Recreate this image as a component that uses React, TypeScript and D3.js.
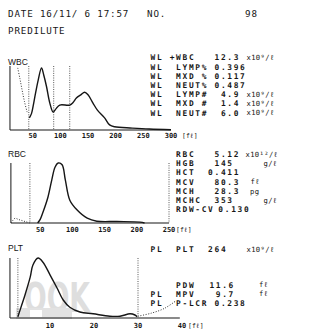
import React from 'react';
import * as d3 from 'd3';

// ---------- header ----------
const headerDate = 'DATE 16/11/ 6 17:57';
const headerNo = 'NO.';
const sampleNo = '98';
const modeText = 'PREDILUTE';

// ---------- WBC histogram ----------
const wbcFl = [44, 48, 51, 54, 60, 66, 70, 75, 81, 87, 92, 99, 117, 123, 129, 137, 144, 150, 159, 167, 180, 189, 198, 230, 261, 300];
const wbcCount = [19, 26, 38, 52, 78, 97, 86, 68, 42, 28, 33, 39, 39, 43, 50, 55, 59, 55, 42, 31, 19, 8, 5, 3, 1.5, 0.5];
const wbcGhostFl = [23, 27, 31, 35, 40];
const wbcGhostCount = [97, 80, 62, 45, 28];
const wbcMarkers = [43, 88, 117];
const wbcTicks = [50, 100, 150, 200, 250, 300];

// ---------- RBC histogram ----------
const rbcFl = [46, 50, 54, 62, 68, 73, 78, 84, 89, 96, 107, 123, 138, 169, 205, 212];
const rbcCount = [0, 6, 17, 43, 72, 93, 100, 97, 72, 38, 22, 8, 3, 2.5, 1.5, 0];
const rbcGhostFl = [5, 8, 11, 16, 22, 28, 34];
const rbcGhostCount = [0, 5, 8, 6, 4, 2, 0];
const rbcMarkers = [34, 250];
const rbcTicks = [50, 100, 150, 200, 250];

// ---------- PLT histogram ----------
const pltFl = [2.7, 3.5, 4.3, 5.5, 6.1, 7.3, 8.4, 10, 11.6, 13, 14.5, 16.8, 19.8, 23.6, 25.9, 28.2, 29.3, 29.8];
const pltCount = [2, 20, 38, 68, 88, 100, 93, 72, 50, 30, 18, 10, 7, 3, 3, 7, 5, 2];
const pltGhostFl = [30, 33, 36, 38.5];
const pltGhostCount = [3, 8, 16, 28];
const pltMarkers = [2.7, 30];
const pltTicks = [10, 20, 30, 40];

// ---------- results ----------
const wbcFlags = ['WL', 'WL', 'WL', 'WL', 'WL', 'WL', 'WL'];
const wbcNames = ['+WBC', 'LYMP%', 'MXD %', 'NEUT%', 'LYMP#', 'MXD #', 'NEUT#'];
const wbcValues = ['12.3', '0.396', '0.117', '0.487', '4.9', '1.4', '6.0'];
const wbcUnits = ['x10⁹/ℓ', '', '', '', 'x10⁹/ℓ', 'x10⁹/ℓ', 'x10⁹/ℓ'];

const rbcFlags = ['', '', '', '', '', '', ''];
const rbcNames = ['RBC', 'HGB', 'HCT', 'MCV', 'MCH', 'MCHC', 'RDW-CV'];
const rbcValues = ['5.12', '145', '0.411', '80.3', '28.3', '353', '0.130'];
const rbcUnits = ['x10¹²/ℓ', 'g/ℓ', '', 'fℓ', 'pg', 'g/ℓ', ''];

const pltFlags = ['PL', '', 'PL', 'PL'];
const pltNames = ['PLT', 'PDW', 'MPV', 'P-LCR'];
const pltValues = ['264', '11.6', '9.7', '0.238'];
const pltUnits = ['x10⁹/ℓ', 'fℓ', 'fℓ', ''];

// ---------- layout (positions, not data) ----------
const MONO = '"DejaVu Sans Mono", "Liberation Mono", monospace';
const SANS = '"Liberation Sans", Arial, sans-serif';
const INK = '#161616';
const FS = 7.85;
const LS = 1.68;
const HFS = 9.2;
const HLS = 0.85;
const COL0 = 150.5;
const CW = 6.4;
const wbcValCols = [10, 10, 10, 10, 11, 11, 11];
const wbcRowY = [60.3, 69.5, 78.7, 87.9, 97.1, 106.3, 115.5];
const wbcUnitX = [246.5, 0, 0, 0, 246.5, 246.5, 246.5];
const rbcValCols = [10, 10, 9, 10, 10, 10, 10.6];
const rbcRowY = [157, 166.2, 175.4, 184.6, 193.8, 203, 212.2];
const rbcUnitX = [245.5, 263.5, 0, 250.5, 250, 263.5, 0];
const pltValCols = [9, 9.2, 10.2, 10];
const pltRowY = [252, 287.5, 296.7, 305.9];
const pltUnitX = [246.5, 259, 259, 0];

type PanelProps = {
  fl: number[]; count: number[];
  ghostFl: number[]; ghostCount: number[];
  markers: number[]; ticks: number[];
  domain: [number, number]; range: [number, number];
  base: number; top: number;
  solidAt: number; axisFrom: number; axisTo: number;
  tickY: number; unitX: number;
  label: string; labelY: number;
};

function Panel(p: PanelProps) {
  const x = d3.scaleLinear().domain(p.domain).range(p.range);
  const y = d3.scaleLinear().domain([0, 100]).range([p.base, p.top]);
  const idx = d3.range(p.fl.length);
  const line = d3.line<number>().x(i => x(p.fl[i])).y(i => y(p.count[i])).curve(d3.curveCatmullRom.alpha(0.5));
  const gIdx = d3.range(p.ghostFl.length);
  const ghost = d3.line<number>().x(i => x(p.ghostFl[i])).y(i => y(p.ghostCount[i])).curve(d3.curveCatmullRom.alpha(0.5));
  return (
    <g>
      <text x={8} y={p.labelY} fontFamily={SANS} fontSize={8.5} fill={INK}>{p.label}</text>
      <line x1={x(p.solidAt)} x2={x(p.solidAt)} y1={y(100)} y2={p.base} stroke={INK} strokeWidth={1} />
      {p.markers.map((m, i) => (
        <line key={i} x1={x(m)} x2={x(m)} y1={y(100)} y2={p.base} stroke="#444" strokeWidth={0.9} strokeDasharray="1,1.3" />
      ))}
      <line x1={x(p.axisFrom)} x2={x(p.axisTo)} y1={p.base} y2={p.base} stroke={INK} strokeWidth={1.2} />
      <path d={ghost(gIdx) || ''} fill="none" stroke="#333" strokeWidth={1} strokeDasharray="1,1.6" />
      <path d={line(idx) || ''} fill="none" stroke={INK} strokeWidth={1.4} strokeLinejoin="round" />
      <text fontFamily={MONO} fontSize={7} fontWeight="bold" fill={INK}>
        {p.ticks.map((t, i) => (
          <tspan key={i} x={x(t) - String(t).length * 2.1} y={p.tickY}>{t}</tspan>
        ))}
        <tspan x={p.unitX} y={p.tickY} fontSize={6.5} fontWeight="normal">[fℓ]</tspan>
      </text>
    </g>
  );
}

function Rows(props: { flags: string[]; names: string[]; values: string[]; units: string[]; rowY: number[]; valCols: number[]; unitX: number[] }) {
  const { flags, names, values, units, rowY, valCols, unitX } = props;
  const spans: React.ReactNode[] = [];
  names.forEach((n, i) => {
    if (flags[i]) spans.push(<tspan key={`f${i}`} x={COL0} y={rowY[i]}>{flags[i]}</tspan>);
    spans.push(<tspan key={`n${i}`} x={COL0 + CW * (n.startsWith('+') ? 3 : 4)} y={rowY[i]}>{n}</tspan>);
    spans.push(<tspan key={`v${i}`} x={COL0 + CW * valCols[i]} y={rowY[i]}>{values[i]}</tspan>);
    if (units[i]) spans.push(<tspan key={`u${i}`} x={unitX[i]} y={rowY[i] - 0.3} fontSize={7.2} fontWeight="normal" letterSpacing={0.35}>{units[i]}</tspan>);
  });
  return (
    <text fontFamily={MONO} fontSize={FS} fontWeight="bold" letterSpacing={LS} fill={INK}>{spans}</text>
  );
}

export default function App() {
  return (
    <svg width={309} height={336} viewBox="0 0 309 336" style={{ position: 'absolute', left: 0, top: 0, background: '#fff' }}>
      <rect x={0} y={0} width={309} height={336} fill="#fff" />
      <text fontFamily={MONO} fontSize={HFS} letterSpacing={HLS} fill={INK}>
        <tspan x={8} y={16.5}>{headerDate}</tspan>
        <tspan x={147} y={16.5}>{headerNo}</tspan>
        <tspan x={245} y={16.5}>{sampleNo}</tspan>
        <tspan x={8} y={33.5}>{modeText}</tspan>
      </text>

      {/* watermark */}
      <text x={24} y={312} fontFamily='"DejaVu Sans", sans-serif' fontWeight="bold" fontSize={40} textLength={66} lengthAdjust="spacingAndGlyphs" fill="#dedede">OOK</text>
      <rect x={16} y={308} width={56} height={11} fill="#e2e2e2" />
      <rect x={30} y={310} width={12} height={7} fill="#fff" />

      <Panel fl={wbcFl} count={wbcCount} ghostFl={wbcGhostFl} ghostCount={wbcGhostCount}
        markers={wbcMarkers} ticks={wbcTicks} domain={[0, 300]} range={[5, 171]}
        base={130} top={66} solidAt={9} axisFrom={9} axisTo={300} tickY={138} unitX={182} label="WBC" labelY={65} />
      <Panel fl={rbcFl} count={rbcCount} ghostFl={rbcGhostFl} ghostCount={rbcGhostCount}
        markers={rbcMarkers} ticks={rbcTicks} domain={[0, 250]} range={[8, 169]}
        base={223} top={163} solidAt={4.5} axisFrom={4.5} axisTo={250} tickY={232} unitX={176} label="RBC" labelY={157} />
      <Panel fl={pltFl} count={pltCount} ghostFl={pltGhostFl} ghostCount={pltGhostCount}
        markers={pltMarkers} ticks={pltTicks} domain={[0, 40]} range={[6, 182]}
        base={318} top={258} solidAt={0.9} axisFrom={0.9} axisTo={39.5} tickY={328} unitX={188} label="PLT" labelY={251} />

      <Rows flags={wbcFlags} names={wbcNames} values={wbcValues} units={wbcUnits} rowY={wbcRowY} valCols={wbcValCols} unitX={wbcUnitX} />
      <Rows flags={rbcFlags} names={rbcNames} values={rbcValues} units={rbcUnits} rowY={rbcRowY} valCols={rbcValCols} unitX={rbcUnitX} />
      <Rows flags={pltFlags} names={pltNames} values={pltValues} units={pltUnits} rowY={pltRowY} valCols={pltValCols} unitX={pltUnitX} />
    </svg>
  );
}
